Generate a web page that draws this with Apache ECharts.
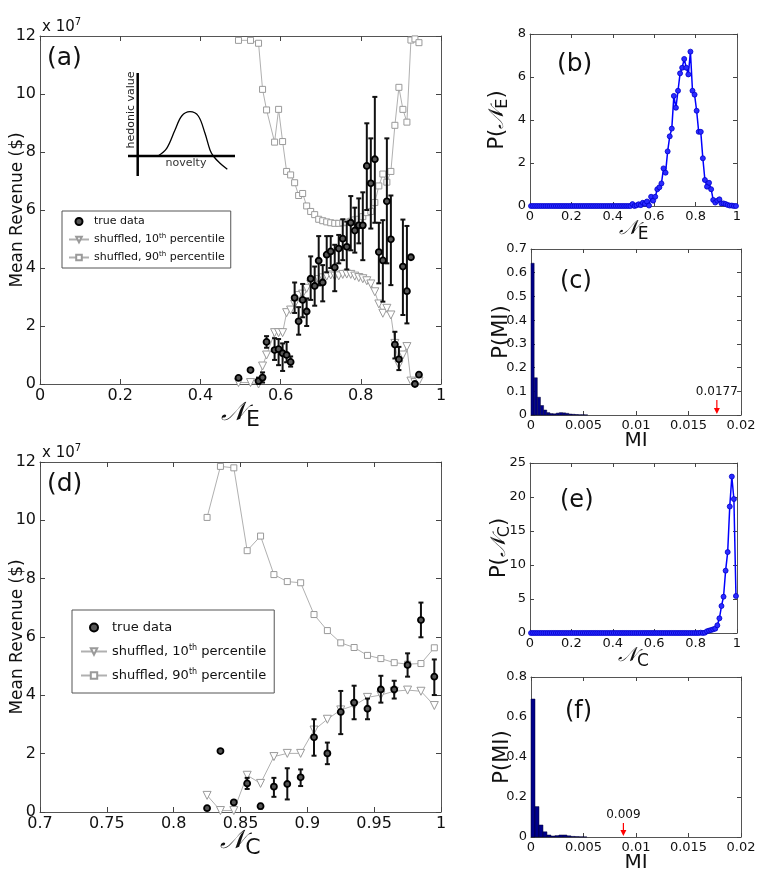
<!DOCTYPE html>
<html><head><meta charset="utf-8">
<script src="https://cdn.jsdelivr.net/npm/echarts/dist/echarts.min.js"></script>
<style>html,body{margin:0;padding:0;background:#fff}#c{width:763px;height:869px}</style>
</head><body><div id="c"></div>
<script>
// ---------- panel (a): revenue vs N_E ----------
const aX = [0.495,0.525,0.545,0.555,0.565,0.585,0.595,0.605,0.615,0.625,0.635,0.645,0.655,0.665,0.675,0.685,0.695,0.705,0.715,0.725,0.735,0.745,0.755,0.765,0.775,0.785,0.795,0.805,0.815,0.825,0.835,0.845,0.855,0.865,0.875,0.885,0.895,0.905,0.915,0.925,0.935,0.945];
const aTrue = [0.21,0.48,0.10,0.22,1.45,1.17,1.20,1.06,1.00,0.76,2.97,2.16,2.90,2.50,3.63,3.38,4.25,3.50,4.46,4.57,4.02,4.67,5.01,4.73,5.56,5.29,5.47,5.47,7.52,6.92,7.75,4.55,4.26,6.30,4.99,1.36,0.85,4.05,3.20,4.37,0.00,0.32];
const aLo = [null,null,0.00,0.05,1.25,0.83,0.65,0.45,0.75,0.60,2.45,1.70,2.30,2.00,2.90,2.70,3.40,2.85,3.85,4.00,3.20,4.16,4.27,3.95,4.61,4.53,4.85,4.27,6.00,5.36,5.56,3.47,2.84,4.16,3.41,0.88,0.48,2.38,2.09,null,null,null];
const aHi = [null,null,0.22,0.40,1.65,1.58,1.55,1.40,1.45,0.95,3.50,2.65,3.45,2.95,4.40,4.05,5.10,4.10,5.10,5.10,4.80,5.14,5.68,5.60,6.48,6.08,6.40,6.61,8.99,8.47,9.90,5.56,5.65,8.47,6.50,1.80,1.28,5.67,5.45,null,null,null];
const aP10 = [0.05,0.05,0.00,0.62,1.00,1.77,1.77,1.77,2.46,2.55,2.75,3.05,3.10,3.30,3.45,3.55,3.60,3.66,3.72,3.76,3.72,3.73,3.78,3.79,3.78,3.72,3.67,3.63,3.56,3.45,3.18,2.76,2.44,2.61,2.38,1.40,0.66,1.00,1.29,0.10,0.05,0.10];
const aP90 = [11.85,11.85,11.75,10.16,9.45,8.34,9.47,8.36,7.33,7.21,6.94,6.50,6.57,6.14,5.95,5.84,5.68,5.63,5.59,5.56,5.54,5.54,5.56,5.58,5.61,5.66,5.68,5.77,5.91,5.95,6.26,6.83,7.24,6.96,7.33,8.92,10.23,9.47,9.03,11.86,11.90,11.77];

// ---------- panel (d): revenue vs N_C ----------
const dX = [0.825,0.835,0.845,0.855,0.865,0.875,0.885,0.895,0.905,0.915,0.925,0.935,0.945,0.955,0.965,0.975,0.985,0.995];
const dTrue = [0.13,2.09,0.33,0.98,0.20,0.87,0.96,1.19,2.56,2.01,3.43,3.75,3.54,4.20,4.20,5.04,6.58,4.64];
const dLo = [null,null,null,0.79,0.12,0.52,0.43,0.89,1.93,1.64,2.67,3.18,3.18,3.75,3.89,4.64,5.99,4.01];
const dHi = [null,null,null,1.17,0.28,1.17,1.50,1.46,3.18,2.38,4.15,4.33,3.89,4.67,4.50,5.44,7.18,5.23];
const dP10 = [0.57,0.05,0.05,1.26,0.98,1.90,2.01,2.01,2.81,3.18,3.50,3.65,3.93,4.01,4.14,4.18,4.14,3.65];
const dP90 = [10.10,11.85,11.80,8.96,9.46,8.14,7.90,7.86,6.77,6.22,5.80,5.64,5.37,5.26,5.12,5.07,5.09,5.63];

// ---------- panels (b),(e): distributions ----------
const pX = [0.005,0.015,0.025,0.035,0.045,0.055,0.065,0.075,0.085,0.095,0.105,0.115,0.125,0.135,0.145,0.155,0.165,0.175,0.185,0.195,0.205,0.215,0.225,0.235,0.245,0.255,0.265,0.275,0.285,0.295,0.305,0.315,0.325,0.335,0.345,0.355,0.365,0.375,0.385,0.395,0.405,0.415,0.425,0.435,0.445,0.455,0.465,0.475,0.485,0.495,0.505,0.515,0.525,0.535,0.545,0.555,0.565,0.575,0.585,0.595,0.605,0.615,0.625,0.635,0.645,0.655,0.665,0.675,0.685,0.695,0.705,0.715,0.725,0.735,0.745,0.755,0.765,0.775,0.785,0.795,0.805,0.815,0.825,0.835,0.845,0.855,0.865,0.875,0.885,0.895,0.905,0.915,0.925,0.935,0.945,0.955,0.965,0.975,0.985,0.995];
const bY = [0,0,0,0,0,0,0,0,0,0, 0,0,0,0,0,0,0,0,0,0, 0,0,0,0,0,0,0,0,0,0, 0,0,0,0,0,0,0,0,0,0, 0,0,0,0,0,0,0,0,0,
  0.09,0,0.03,0.08,0.04,0.15,0.10,0.21,0.02,0.43,0.25,0.43,0.78,0.87,1.05,1.75,1.55,2.54,3.24,3.60,5.12,4.57,5.36,6.17,6.43,6.84,6.43,6.12,7.18,5.36,5.18,4.43,3.45,3.45,2.22,1.21,0.90,1.08,0.78,0.28,0.16,0.25,0.31,0.12,0.12,0.09,0.05,0.02,0.02,0,0];
const eY = [0,0,0,0,0,0,0,0,0,0, 0,0,0,0,0,0,0,0,0,0, 0,0,0,0,0,0,0,0,0,0, 0,0,0,0,0,0,0,0,0,0, 0,0,0,0,0,0,0,0,0,0, 0,0,0,0,0,0,0,0,0,0, 0,0,0,0,0,0,0,0,0,0, 0,0,0,0,0,0,0,0,0,0, 0,0,
  0.05,0,0.05,0.25,0.35,0.44,0.54,0.64,1.13,2.16,3.97,5.34,9.17,11.9,18.6,23.0,19.7,5.44];

// ---------- panels (c),(f): MI histograms ----------
const cEdge = [0,0.0003,0.0006,0.0009,0.0012,0.0015,0.0018,0.0021,0.0024,0.0027,0.0030,0.0033,0.0036,0.0039,0.0042,0.0045,0.0048,0.0051];
const cH = [0.64,0.157,0.075,0.040,0.021,0.010,0.006,0.005,0.008,0.010,0.009,0.007,0.004,0.003,0.002,0.001,0.001,0.0005];
const cW = 0.0003;
const fEdge = [0,0.00038,0.00076,0.00114,0.00152,0.0019,0.00228,0.00266,0.00304,0.00342,0.0038,0.00418,0.00456,0.00494];
const fH = [0.69,0.152,0.060,0.026,0.010,0.005,0.007,0.010,0.010,0.006,0.003,0.002,0.001,0.0005];
const fW = 0.00038;
const cMark = [0.0177], cMarkTop = [0.063], cMarkLabel = ['0.0177'];
const fMark = [0.0088], fMarkTop = [0.07], fMarkLabel = ['0.009'];

const FF = 'DejaVu Sans';
const zip = (xs, ys) => xs.map((x, i) => [x, ys[i]]);
const errData = (xs, lo, hi) => xs.map((x, i) => [x, lo[i], hi[i]]).filter(r => r[1] !== null);

const G = [
  {left:40, top:36, width:401, height:348},
  {left:530, top:34, width:207, height:172},
  {left:531, top:249, width:210, height:166},
  {left:40, top:462, width:401, height:350},
  {left:530, top:463, width:207, height:170},
  {left:531, top:677, width:210, height:160}
];
const trim = d => v => String(+v.toFixed(d));
const NE = (n, s, gapTop) => ({n:{fontSize:n, fontFamily:'DejaVu Serif', fontStyle:'italic', color:'#111', verticalAlign:'top'}, s:{fontSize:s, fontFamily:FF, color:'#111', verticalAlign:'top', padding:[gapTop,0,0,0]}, t:{fontSize:n, fontFamily:FF, color:'#111', verticalAlign:'top'}});
const XS = [
  {min:0,max:1,interval:0.2,fs:16,fmt:trim(1),tl:5,name:'{n|𝒩}{s|E}',gap:16,rich:NE(26,22,9)},
  {min:0,max:1,interval:0.2,fs:13,fmt:trim(1),tl:4,name:'{n|𝒩}{s|E}',gap:13,rich:NE(20,17,7)},
  {min:0,max:0.02,interval:0.005,fs:13,fmt:trim(3),tl:4,name:'MI',gap:16,nfs:20},
  {min:0.7,max:1,interval:0.05,fs:16,fmt:trim(2),tl:5,name:'{n|𝒩}{s|C}',gap:16,rich:NE(26,22,9)},
  {min:0,max:1,interval:0.2,fs:13,fmt:trim(1),tl:4,name:'{n|𝒩}{s|C}',gap:13,rich:NE(20,17,7)},
  {min:0,max:0.02,interval:0.005,fs:13,fmt:trim(3),tl:4,name:'MI',gap:16,nfs:20}
];
const YS = [
  {min:0,max:12,interval:2,fs:16,fmt:trim(0),tl:5,name:'Mean Revenue ($)',gap:14,nfs:17},
  {min:0,max:8,interval:2,fs:13,fmt:trim(0),tl:4,name:'{t|P(}{n|𝒩}{s|E}{t|)}',gap:19,rich:NE(21,16,8)},
  {min:0,max:0.7,interval:0.1,fs:13,fmt:trim(1),tl:4,name:'P(MI)',gap:19,nfs:21},
  {min:0,max:12,interval:2,fs:16,fmt:trim(0),tl:5,name:'Mean Revenue ($)',gap:14,nfs:17},
  {min:0,max:25,interval:5,fs:13,fmt:trim(0),tl:4,name:'{t|P(}{n|𝒩}{s|C}{t|)}',gap:17,rich:NE(21,16,8)},
  {min:0,max:0.8,interval:0.2,fs:13,fmt:trim(1),tl:4,name:'P(MI)',gap:18,nfs:21}
];
function mkAxis(g, s, pos, isX) {
  const main = (pos === 'bottom' || pos === 'left');
  const ax = {
    type:'value', gridIndex:g, position:pos, min:s.min, max:s.max, interval:s.interval,
    axisLine:{show:true, onZero:false, lineStyle:{color:'#555', width:1}},
    axisTick:{show:true, inside:true, length:s.tl, lineStyle:{color:'#444'}},
    axisLabel:{show:main, fontSize:s.fs, color:'#111', fontFamily:FF, margin:4, formatter:s.fmt, showMinLabel:true, showMaxLabel:true},
    splitLine:{show:false}
  };
  if (main) {
    ax.name = s.name; ax.nameLocation = 'middle'; ax.nameGap = s.gap; ax.nameMoveOverlap = false;
    ax.nameTextStyle = {fontSize:s.nfs || 20, fontFamily:FF, color:'#111'};
    if (s.rich) ax.nameTextStyle.rich = s.rich;
  }
  return ax;
}
const xAxes = [], yAxes = [];
for (let g = 0; g < 6; g++) {
  xAxes.push(mkAxis(g, XS[g], 'bottom', true), mkAxis(g, XS[g], 'top', true));
  yAxes.push(mkAxis(g, YS[g], 'left', false), mkAxis(g, YS[g], 'right', false));
}

function errRender(params, api) {
  const x = api.value(0), lo = api.value(1), hi = api.value(2);
  const p1 = api.coord([x, lo]), p2 = api.coord([x, hi]);
  const cw = 2.5, st = {stroke:'#111', lineWidth:2};
  return {type:'group', children:[
    {type:'line', shape:{x1:p1[0], y1:p1[1], x2:p2[0], y2:p2[1]}, style:st},
    {type:'line', shape:{x1:p1[0]-cw, y1:p1[1], x2:p1[0]+cw, y2:p1[1]}, style:st},
    {type:'line', shape:{x1:p2[0]-cw, y1:p2[1], x2:p2[0]+cw, y2:p2[1]}, style:st}
  ]};
}
function barRender(params, api) {
  const x0 = api.value(0), x1 = api.value(1), h = api.value(2);
  const a = api.coord([x0, h]), b = api.coord([x1, 0]);
  return {type:'rect', shape:{x:a[0], y:a[1], width:b[0]-a[0], height:b[1]-a[1]}, style:{fill:'#00008b', stroke:'#000033', lineWidth:0.5}};
}
function arrowRender(labels) {
  return function (params, api) {
    const x = api.value(0), y = api.value(1);
    const t = api.coord([x, y]), b = api.coord([x, 0]);
    return {type:'group', children:[
      {type:'line', shape:{x1:t[0], y1:t[1], x2:b[0], y2:b[1]-4}, style:{stroke:'#ff0000', lineWidth:1.2}},
      {type:'polygon', shape:{points:[[b[0]-3, b[1]-7], [b[0]+3, b[1]-7], [b[0], b[1]-1]]}, style:{fill:'#ff0000'}},
      {type:'text', style:{text:labels[params.dataIndex], x:t[0], y:t[1]-2, align:'center', verticalAlign:'bottom', fontSize:12, fontFamily:FF, fill:'#111'}}
    ]};
  };
}
function revenueSeries(gi, xs, tr, lo, hi, p10, p90) {
  const ax = {xAxisIndex:2*gi, yAxisIndex:2*gi};
  return [
    Object.assign({name:'shuffled, 90th percentile', type:'line', data:zip(xs, p90), symbol:'rect', symbolSize:6, showAllSymbol:true,
      lineStyle:{color:'#b0b0b0', width:1}, itemStyle:{color:'#fff', borderColor:'#9a9a9a', borderWidth:1}, z:2}, ax),
    Object.assign({name:'shuffled, 10th percentile', type:'line', data:zip(xs, p10), symbol:'triangle', symbolRotate:180, symbolSize:8, showAllSymbol:true,
      lineStyle:{color:'#b0b0b0', width:1}, itemStyle:{color:'#fff', borderColor:'#9a9a9a', borderWidth:1}, z:2}, ax),
    Object.assign({name:'err'+gi, type:'custom', renderItem:errRender, data:errData(xs, lo, hi), encode:{x:0, y:[1,2]}, z:4}, ax),
    Object.assign({name:'true data', type:'scatter', data:zip(xs, tr), symbol:'circle', symbolSize:6,
      itemStyle:{color:'#555', borderColor:'#000', borderWidth:1.8, opacity:1}, z:5}, ax)
  ];
}
const legendFmt = n => n.replace(/(\d+)th/, '$1{sup|th}');
const series = [].concat(
  revenueSeries(0, aX, aTrue, aLo, aHi, aP10, aP90),
  revenueSeries(3, dX, dTrue, dLo, dHi, dP10, dP90),
  [
    {name:'pNE', type:'line', xAxisIndex:2, yAxisIndex:2, data:zip(pX, bY), symbol:'circle', symbolSize:5, showAllSymbol:true,
      lineStyle:{color:'#0000ff', width:1.5}, itemStyle:{color:'#2b2bff', borderColor:'#0000cc', borderWidth:0.8}},
    {name:'pNC', type:'line', xAxisIndex:8, yAxisIndex:8, data:zip(pX, eY), symbol:'circle', symbolSize:5, showAllSymbol:true,
      lineStyle:{color:'#0000ff', width:1.5}, itemStyle:{color:'#2b2bff', borderColor:'#0000cc', borderWidth:0.8}},
    {name:'histC', type:'custom', xAxisIndex:4, yAxisIndex:4, renderItem:barRender, data:cEdge.map((e, i) => [e, e + cW, cH[i]]), encode:{x:[0,1], y:2}},
    {name:'histF', type:'custom', xAxisIndex:10, yAxisIndex:10, renderItem:barRender, data:fEdge.map((e, i) => [e, e + fW, fH[i]]), encode:{x:[0,1], y:2}},
    {name:'markC', type:'custom', xAxisIndex:4, yAxisIndex:4, renderItem:arrowRender(cMarkLabel), data:zip(cMark, cMarkTop), encode:{x:0, y:1}, z:6},
    {name:'markF', type:'custom', xAxisIndex:10, yAxisIndex:10, renderItem:arrowRender(fMarkLabel), data:zip(fMark, fMarkTop), encode:{x:0, y:1}, z:6}
  ]
);
const legNames = ['true data', 'shuffled, 10th percentile', 'shuffled, 90th percentile'];
const panelLabel = (t, x, y, fs) => ({type:'text', x:x, y:y, style:{text:t, fontSize:fs, fontFamily:FF, fill:'#111', align:'left', verticalAlign:'middle'}});
const expo = (x, y) => ({type:'text', x:x, y:y, style:{text:'{a|x 10}{b|7}', fontFamily:FF, fill:'#111', align:'left', verticalAlign:'bottom',
  rich:{a:{fontSize:15, fontFamily:FF, fill:'#111', verticalAlign:'bottom'}, b:{fontSize:10, fontFamily:FF, fill:'#111', verticalAlign:'bottom', padding:[0,0,8,0]}}}});

const option = {
  animation:false,
  backgroundColor:'#fff',
  grid: G.map(g => Object.assign({outerBoundsMode:'none', containLabel:false}, g)),
  xAxis: xAxes, yAxis: yAxes,
  legend: [
    {left:62, top:211, orient:'vertical', itemWidth:20, itemHeight:7, itemGap:6, padding:[5,6,5,6], borderColor:'#555', borderWidth:1,
      data:legNames, formatter:legendFmt, selectedMode:false,
      textStyle:{fontSize:11, fontFamily:FF, color:'#111', rich:{sup:{fontSize:7, fontFamily:FF, verticalAlign:'bottom', padding:[0,0,6,0]}}}},
    {left:72, top:610, orient:'vertical', itemWidth:26, itemHeight:8, itemGap:10, padding:[11,8,11,8], borderColor:'#555', borderWidth:1,
      data:legNames, formatter:legendFmt, selectedMode:false,
      textStyle:{fontSize:13, fontFamily:FF, color:'#111', rich:{sup:{fontSize:8, fontFamily:FF, verticalAlign:'bottom', padding:[0,0,7,0]}}}}
  ],
  graphic: [
    panelLabel('(a)', 47, 58, 25),
    panelLabel('(b)', 557, 64, 25),
    panelLabel('(c)', 560, 282, 24),
    panelLabel('(d)', 47, 484, 25),
    panelLabel('(e)', 560, 501, 24),
    panelLabel('(f)', 565, 712, 24),
    expo(42, 35), expo(42, 461),
    // inset sketch in panel (a)
    {type:'line', shape:{x1:137.7, y1:73, x2:137.7, y2:176}, style:{stroke:'#000', lineWidth:2.5}},
    {type:'line', shape:{x1:128, y1:156, x2:235, y2:156}, style:{stroke:'#000', lineWidth:2.5}},
    {type:'polyline', shape:{smooth:0.35, points:[[158,156],[166.7,148.3],[175,130],[181.7,116],[190,111.7],[198.3,116],[205,133.3],[210,150],[213.3,156],[220,163.3],[227.3,169.3]]}, style:{stroke:'#000', lineWidth:1.3, fill:null}},
    {type:'text', x:131, y:110, rotation:Math.PI/2, style:{text:'hedonic value', fontSize:11, fontFamily:FF, fill:'#222', align:'center', verticalAlign:'middle'}},
    {type:'text', x:186, y:163, style:{text:'novelty', fontSize:11, fontFamily:FF, fill:'#333', align:'center', verticalAlign:'middle'}}
  ],
  series: series
};
const chart = echarts.init(document.getElementById('c'), null, {renderer:'canvas'});
chart.setOption(option);
</script>
</body></html>
